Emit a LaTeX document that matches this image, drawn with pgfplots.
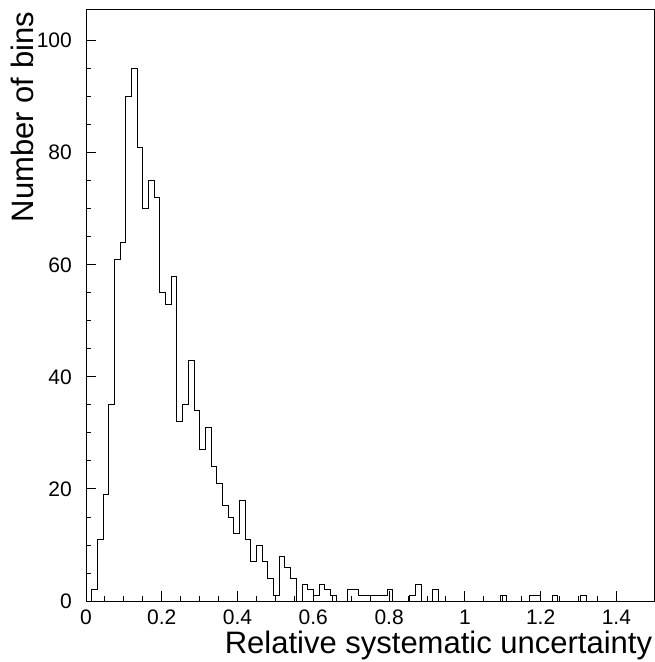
\documentclass[border=0pt]{standalone}
\usepackage{pgfplots}
\pgfplotsset{compat=1.18}
\usepackage{pgfplotstable}
\usepackage{fontspec}
\setmainfont{Liberation Sans}
\pgfplotstableread{
x y
0.000 0
0.015 2
0.030 11
0.045 19
0.060 35
0.075 61
0.090 64
0.105 90
0.120 95
0.135 81
0.150 70
0.165 75
0.180 72
0.195 55
0.210 53
0.225 58
0.240 32
0.255 35
0.270 43
0.285 34
0.300 27
0.315 31
0.330 24
0.345 21
0.360 17
0.375 15
0.390 12
0.405 18
0.420 11
0.435 7
0.450 10
0.465 7
0.480 4
0.495 1
0.510 8
0.525 6
0.540 4
0.555 0
0.570 3
0.585 2
0.600 1
0.615 3
0.630 2
0.645 1
0.660 0
0.675 0
0.690 2
0.705 2
0.720 1
0.735 1
0.750 1
0.765 1
0.780 1
0.795 2
0.810 0
0.825 0
0.840 0
0.855 1
0.870 3
0.885 0
0.900 0
0.915 2
0.930 0
0.945 0
0.960 0
0.975 0
0.990 0
1.005 0
1.020 0
1.035 0
1.050 0
1.065 0
1.080 0
1.095 1
1.110 0
1.125 0
1.140 0
1.155 0
1.170 1
1.185 1
1.200 0
1.215 0
1.230 1
1.245 0
1.260 0
1.275 0
1.290 0
1.305 1
1.320 0
1.335 0
1.350 0
1.365 0
1.380 0
1.395 0
1.410 0
1.425 0
1.440 0
1.455 0
1.470 0
1.485 0
1.500 0
}\histdata
\begin{document}
\begin{tikzpicture}
\begin{axis}[
  scale only axis, width=568.3bp, height=591.7bp,
  xmin=0, xmax=1.5, ymin=0, ymax=105.6,
  xtick={0,0.2,0.4,0.6,0.8,1,1.2,1.4}, ytick={0,20,40,60,80,100},
  minor x tick num=3, minor y tick num=3,
  tick align=inside, xtick pos=left, ytick pos=left,
  major tick length=10bp, minor tick length=5bp,
  axis line style={line width=0.9bp, black},
  tick style={line width=0.9bp, black},
  /pgf/number format/assume math mode=true,
  tick label style={font=\fontsize{21bp}{21bp}\selectfont, inner sep=0pt},
  xticklabel style={anchor=north, yshift=-9bp},
  yticklabel style={anchor=east, xshift=-14bp},
]
\addplot[const plot, line width=0.9bp, black, mark=none] table[x=x, y=y] {\histdata};
\coordinate (fsw) at (rel axis cs:0,0);
\coordinate (fne) at (rel axis cs:1,1);
\coordinate (fnw) at (rel axis cs:0,1);
\coordinate (fse) at (rel axis cs:1,0);
\end{axis}
\node[rotate=90, anchor=base east, inner sep=0pt, font=\fontsize{31bp}{31bp}\selectfont]
  at ([xshift=-53bp, yshift=-2.4bp]fnw) {Number of bins};
\node[anchor=base east, inner sep=0pt, font=\fontsize{31bp}{31bp}\selectfont]
  at ([xshift=-2bp, yshift=-52bp]fse) {Relative systematic uncertainty};
\pgfresetboundingbox
\path ([xshift=-86bp, yshift=-61bp]fsw) rectangle ([xshift=0.7bp, yshift=9.3bp]fne);
\end{tikzpicture}
\end{document}
